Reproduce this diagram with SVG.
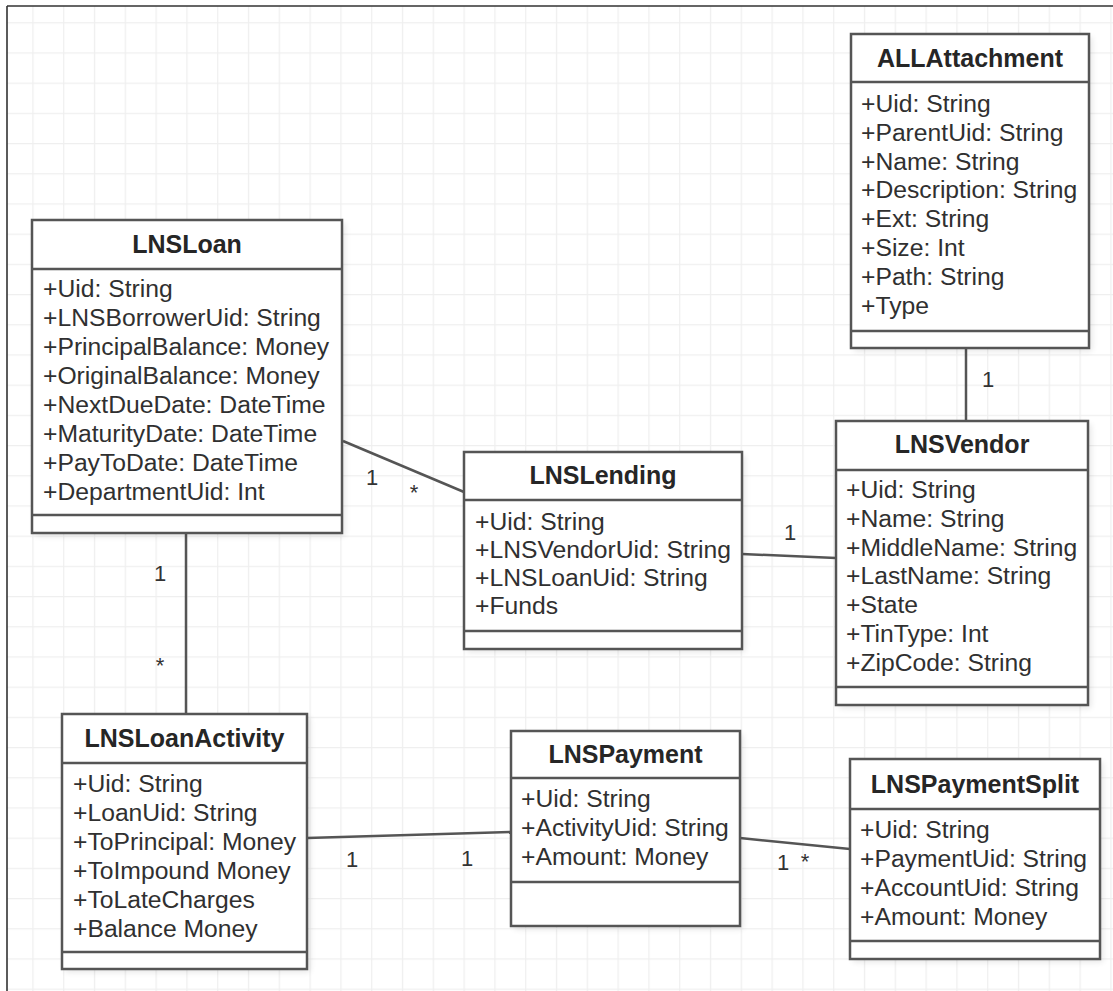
<svg xmlns="http://www.w3.org/2000/svg" width="1113" height="991" viewBox="0 0 1113 991">
<defs>
<pattern id="grid" patternUnits="userSpaceOnUse" x="1.5" y="-8" width="30.8" height="30.2">
<path d="M0 0 V30.2 M0 0 H30.8" fill="none" stroke="#efefef" stroke-width="2.5"/>
</pattern>
<filter id="sh" x="-10%" y="-10%" width="130%" height="130%">
<feGaussianBlur stdDeviation="3"/>
</filter>
<style>
.box{fill:#fff;stroke:#555;stroke-width:2.5}
.shadow{fill:#000;opacity:0.10;filter:url(#sh)}
.div{stroke:#555;stroke-width:2.5}
.title{font-family:"Liberation Sans",Arial,sans-serif;font-size:25px;font-weight:bold;fill:#262626;text-anchor:middle}
.attr{font-family:"Liberation Sans",Arial,sans-serif;font-size:24.7px;fill:#303030}
.lbl{font-family:"Liberation Sans",Arial,sans-serif;font-size:22px;fill:#333;text-anchor:middle}
.edge{stroke:#555;stroke-width:2.5;fill:none}
</style>
</defs>
<rect x="0" y="0" width="1113" height="991" fill="#fff"/>
<rect x="7" y="6" width="1106" height="985" fill="url(#grid)"/>
<path d="M7 6 H1113 M7 6 V991" stroke="#333" stroke-width="1.6" fill="none"/>

<g id="connectors">
<line class="edge" x1="343" y1="441" x2="464" y2="492"/>
<line class="edge" x1="742" y1="554" x2="836" y2="558"/>
<line class="edge" x1="966" y1="348" x2="966" y2="421"/>
<line class="edge" x1="186" y1="533" x2="186" y2="714"/>
<line class="edge" x1="307" y1="838" x2="511" y2="832"/>
<line class="edge" x1="740" y1="838" x2="850" y2="849"/>
<text class="lbl" x="372" y="485">1</text>
<text class="lbl" x="414" y="500">*</text>
<text class="lbl" x="790" y="540">1</text>
<text class="lbl" x="988" y="387">1</text>
<text class="lbl" x="160" y="581">1</text>
<text class="lbl" x="160" y="673">*</text>
<text class="lbl" x="352" y="867">1</text>
<text class="lbl" x="467" y="866">1</text>
<text class="lbl" x="783" y="870">1</text>
<text class="lbl" x="805" y="869">*</text>
</g>

<g id="LNSLoan">
<rect class="shadow" x="35" y="223" width="310" height="313"/>
<rect class="box" x="32" y="220" width="310" height="313"/>
<line class="div" x1="32" y1="269" x2="342" y2="269"/>
<line class="div" x1="32" y1="515" x2="342" y2="515"/>
<text class="title" x="187" y="253">LNSLoan</text>
<text class="attr" x="43" y="297">+Uid: String</text>
<text class="attr" x="43" y="326">+LNSBorrowerUid: String</text>
<text class="attr" x="43" y="355">+PrincipalBalance: Money</text>
<text class="attr" x="43" y="384">+OriginalBalance: Money</text>
<text class="attr" x="43" y="413">+NextDueDate: DateTime</text>
<text class="attr" x="43" y="442">+MaturityDate: DateTime</text>
<text class="attr" x="43" y="471">+PayToDate: DateTime</text>
<text class="attr" x="43" y="500">+DepartmentUid: Int</text>
</g>

<g id="ALLAttachment">
<rect class="shadow" x="854" y="37" width="238" height="314"/>
<rect class="box" x="851" y="34" width="238" height="314"/>
<line class="div" x1="851" y1="82" x2="1089" y2="82"/>
<line class="div" x1="851" y1="331" x2="1089" y2="331"/>
<text class="title" x="970" y="67">ALLAttachment</text>
<text class="attr" x="861" y="112">+Uid: String</text>
<text class="attr" x="861" y="141">+ParentUid: String</text>
<text class="attr" x="861" y="170">+Name: String</text>
<text class="attr" x="861" y="198">+Description: String</text>
<text class="attr" x="861" y="227">+Ext: String</text>
<text class="attr" x="861" y="256">+Size: Int</text>
<text class="attr" x="861" y="285">+Path: String</text>
<text class="attr" x="861" y="314">+Type</text>
</g>

<g id="LNSLending">
<rect class="shadow" x="467" y="455" width="278" height="197"/>
<rect class="box" x="464" y="452" width="278" height="197"/>
<line class="div" x1="464" y1="500" x2="742" y2="500"/>
<line class="div" x1="464" y1="631" x2="742" y2="631"/>
<text class="title" x="603" y="484">LNSLending</text>
<text class="attr" x="475" y="530">+Uid: String</text>
<text class="attr" x="475" y="558">+LNSVendorUid: String</text>
<text class="attr" x="475" y="586">+LNSLoanUid: String</text>
<text class="attr" x="475" y="614">+Funds</text>
</g>

<g id="LNSVendor">
<rect class="shadow" x="839" y="424" width="252" height="284"/>
<rect class="box" x="836" y="421" width="252" height="284"/>
<line class="div" x1="836" y1="470" x2="1088" y2="470"/>
<line class="div" x1="836" y1="687" x2="1088" y2="687"/>
<text class="title" x="962" y="453">LNSVendor</text>
<text class="attr" x="846" y="498">+Uid: String</text>
<text class="attr" x="846" y="527">+Name: String</text>
<text class="attr" x="846" y="556">+MiddleName: String</text>
<text class="attr" x="846" y="584">+LastName: String</text>
<text class="attr" x="846" y="613">+State</text>
<text class="attr" x="846" y="642">+TinType: Int</text>
<text class="attr" x="846" y="671">+ZipCode: String</text>
</g>

<g id="LNSLoanActivity">
<rect class="shadow" x="65" y="717" width="245" height="255"/>
<rect class="box" x="62" y="714" width="245" height="255"/>
<line class="div" x1="62" y1="763" x2="307" y2="763"/>
<line class="div" x1="62" y1="952" x2="307" y2="952"/>
<text class="title" x="184.5" y="747">LNSLoanActivity</text>
<text class="attr" x="73" y="792">+Uid: String</text>
<text class="attr" x="73" y="821">+LoanUid: String</text>
<text class="attr" x="73" y="850">+ToPrincipal: Money</text>
<text class="attr" x="73" y="879">+ToImpound Money</text>
<text class="attr" x="73" y="908">+ToLateCharges</text>
<text class="attr" x="73" y="937">+Balance Money</text>
</g>

<g id="LNSPayment">
<rect class="shadow" x="514" y="734" width="229" height="195"/>
<rect class="box" x="511" y="731" width="229" height="195"/>
<line class="div" x1="511" y1="778" x2="740" y2="778"/>
<line class="div" x1="511" y1="882" x2="740" y2="882"/>
<text class="title" x="625.5" y="763">LNSPayment</text>
<text class="attr" x="521" y="807">+Uid: String</text>
<text class="attr" x="521" y="836">+ActivityUid: String</text>
<text class="attr" x="521" y="865">+Amount: Money</text>
</g>

<g id="LNSPaymentSplit">
<rect class="shadow" x="853" y="762" width="250" height="200"/>
<rect class="box" x="850" y="759" width="250" height="200"/>
<line class="div" x1="850" y1="809" x2="1100" y2="809"/>
<line class="div" x1="850" y1="941" x2="1100" y2="941"/>
<text class="title" x="975" y="793">LNSPaymentSplit</text>
<text class="attr" x="860" y="838">+Uid: String</text>
<text class="attr" x="860" y="867">+PaymentUid: String</text>
<text class="attr" x="860" y="896">+AccountUid: String</text>
<text class="attr" x="860" y="925">+Amount: Money</text>
</g>
</svg>
